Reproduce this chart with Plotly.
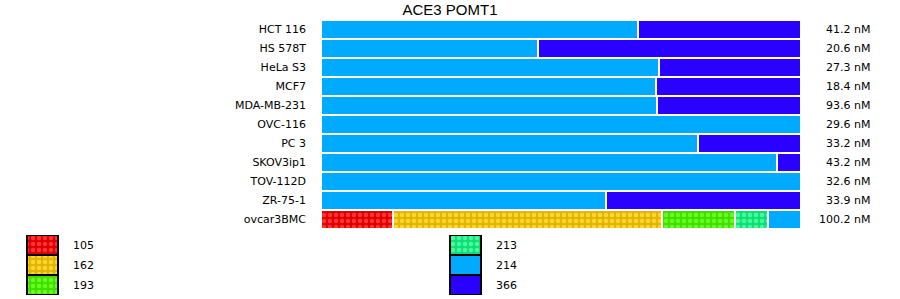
import numpy as np
import plotly.graph_objects as go

cell_lines = ["HCT 116", "HS 578T", "HeLa S3", "MCF7", "MDA-MB-231", "OVC-116",
              "PC 3", "SKOV3ip1", "TOV-112D", "ZR-75-1", "ovcar3BMC"]
concentrations = ["41.2 nM", "20.6 nM", "27.3 nM", "18.4 nM", "93.6 nM", "29.6 nM",
                  "33.2 nM", "43.2 nM", "32.6 nM", "33.9 nM", "100.2 nM"]
series_names = ["105", "162", "193", "213", "214", "366"]
s105 = [0, 0, 0, 0, 0, 0, 0, 0, 0, 0, 15.0]
s162 = [0, 0, 0, 0, 0, 0, 0, 0, 0, 0, 56.0]
s193 = [0, 0, 0, 0, 0, 0, 0, 0, 0, 0, 15.2]
s213 = [0, 0, 0, 0, 0, 0, 0, 0, 0, 0, 6.9]
s214 = [66.0, 45.2, 70.4, 69.8, 70.0, 100, 78.5, 95.0, 100, 59.4, 6.9]
s366 = [34.0, 54.8, 29.6, 30.2, 30.0, 0, 21.5, 5.0, 0, 40.6, 0]
title = "ACE3 POMT1"

series = [s105, s162, s193, s213, s214, s366]
bg_colors = ["#DD0000", "#E3B400", "#44DD00", "#11DD77", "#00AAFF", "#2A00FF"]
fg_colors = ["#FF3333", "#FFD633", "#66FF22", "#44FF99", None, None]

W, H = 900, 299

def pattern(i):
    if fg_colors[i] is None:
        return dict(shape="")
    return dict(shape=".", fgcolor=fg_colors[i], bgcolor=bg_colors[i],
                size=6, solidity=0.45, fillmode="replace")

fig = go.Figure()
vals = np.array(series, dtype=float)
bases = np.vstack([np.zeros(len(cell_lines)), np.cumsum(vals, axis=0)[:-1]])
for i, name in enumerate(series_names):
    fig.add_trace(go.Bar(
        y=cell_lines, x=vals[i], base=bases[i], orientation="h", name=name,
        marker=dict(color=bg_colors[i], line=dict(color="white", width=2),
                    pattern=pattern(i)),
        showlegend=False, hoverinfo="x+y+name"))

# legend drawn as a small bar subplot
leg_cols_x = [27, 450]
leg_box_w = 31
for i, name in enumerate(series_names):
    col, row = divmod(i, 3)
    fig.add_trace(go.Bar(
        y=[row], x=[leg_box_w], base=[leg_cols_x[col]], orientation="h",
        xaxis="x2", yaxis="y2", showlegend=False, hoverinfo="skip",
        marker=dict(color=bg_colors[i], line=dict(color="black", width=2),
                    pattern=pattern(i))))
    fig.add_annotation(x=leg_cols_x[col] + 44, y=row, xref="x2", yref="y2",
                       text=name, showarrow=False, xanchor="left",
                       font=dict(size=11, color="#000"))

for lbl, conc in zip(cell_lines, concentrations):
    fig.add_annotation(x=872 / W, y=lbl, xref="paper", yref="y", text=conc,
                       showarrow=False, xanchor="right",
                       font=dict(size=11, color="#000"))

fig.update_layout(
    width=W, height=H, margin=dict(l=0, r=0, t=0, b=0),
    paper_bgcolor="white", plot_bgcolor="white",
    barmode="overlay", bargap=0,
    font=dict(family="DejaVu Sans", size=11, color="#000"),
    title=dict(text=title, x=0.5, xanchor="center", y=1 - 10 / H, yanchor="middle",
               font=dict(family="Liberation Sans", size=15, color="#000")),
    xaxis=dict(domain=[321 / W, 801 / W], range=[0, 100], visible=False),
    yaxis=dict(domain=[1 - 229 / H, 1 - 20 / H], autorange="reversed",
               showgrid=False, zeroline=False, showline=False, ticks="",
               ticklabelstandoff=14, tickfont=dict(size=11, color="#000")),
    xaxis2=dict(domain=[0, 1], range=[0, W], visible=False, anchor="y2"),
    yaxis2=dict(domain=[1 - 295 / H, 1 - 235 / H], range=[2.5, -0.5],
                visible=False, anchor="x2"),
)

fig.write_html("out.html")
